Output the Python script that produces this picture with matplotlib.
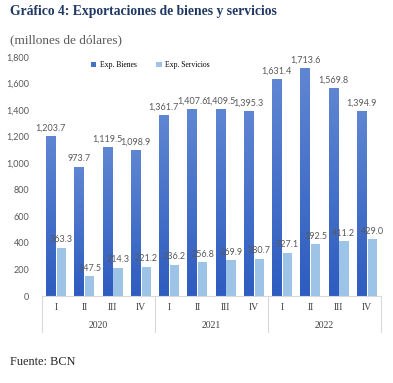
import matplotlib.pyplot as plt
import numpy as np
from matplotlib.colors import LinearSegmentedColormap

quarters = ['I', 'II', 'III', 'IV'] * 3
years = ['2020', '2021', '2022']
bienes = [1203.7, 973.7, 1119.5, 1098.9, 1361.7, 1407.6, 1409.5, 1395.3, 1631.4, 1713.6, 1569.8, 1394.9]
servicios = [363.3, 147.5, 214.3, 221.2, 236.2, 256.8, 269.9, 280.7, 327.1, 392.5, 411.2, 429.0]

W, H = 393, 383
fig = plt.figure(figsize=(W / 100, H / 100), dpi=100)
ax = fig.add_axes([42 / W, (H - 296) / H, 339 / W, 239 / H])

serif = 'Liberation Serif'
num = 'Lato'
gray = '#595959'

x = np.arange(len(bienes))
bw = 0.32
b1 = ax.bar(x - 0.19, bienes, bw, color='#4472C4', label='Exp. Bienes', zorder=2)
b2 = ax.bar(x + 0.19, servicios, bw, color='#9DC3E6', label='Exp. Servicios', zorder=2)

# gradient on the goods bars
grad = np.linspace(0, 1, 100).reshape(-1, 1)
cmap = LinearSegmentedColormap.from_list('g', ['#2E5CC0', '#5F86D2'])
for r in b1:
    x0, y0 = r.get_x(), r.get_y()
    im = ax.imshow(grad, extent=[x0, x0 + r.get_width(), y0, y0 + r.get_height()],
                   origin='lower', cmap=cmap, aspect='auto', zorder=2)
    im.set_clip_path(r)

for xi, v in zip(x, bienes):
    ax.text(xi - 0.19, v + 25, f'{v:,.1f}', ha='center', va='bottom',
            fontsize=6.5, color=gray, family=num)
for xi, v in zip(x, servicios):
    ax.text(xi + 0.19, v + 25, f'{v:,.1f}', ha='center', va='bottom',
            fontsize=6.5, color=gray, family=num)

ax.set_xlim(-0.5, 11.5)
ax.set_ylim(0, 1800)
ax.set_yticks(range(0, 1801, 200))
ax.set_yticklabels([f'{t:,}' for t in range(0, 1801, 200)], family=num, fontsize=6.5, color=gray)
ax.tick_params(axis='y', length=0, pad=9)
ax.set_xticks([])
for s in ['top', 'right', 'left']:
    ax.spines[s].set_visible(False)
ax.spines['bottom'].set_color('#D9D9D9')

trans = ax.get_xaxis_transform()
for xi, q in zip(x, quarters):
    ax.text(xi, -12 / 239, q, ha='center', va='center', fontsize=7,
            family=serif, color='#404040', transform=trans)
for i, yr in enumerate(years):
    ax.text(4 * i + 1.5, -30 / 239, yr, ha='center', va='center', fontsize=7,
            family=serif, color='#404040', transform=trans)
for b in [-0.5, 3.5, 7.5, 11.5]:
    ax.plot([b, b], [0, -36 / 239], color='#D9D9D9', lw=0.8,
            transform=trans, clip_on=False)

ax.legend(loc='center', bbox_to_anchor=(0.32, 0.966), ncol=2, frameon=False,
          prop={'family': serif, 'size': 5.5}, handlelength=0.7, handleheight=0.7,
          columnspacing=2.5, handletextpad=0.5)

fig.text(10 / W, 1 - 12 / H, 'Gráfico 4: Exportaciones de bienes y servicios',
         fontsize=9.8, fontweight='bold', family=serif, color='#1F3864', va='center')
fig.text(10 / W, 1 - 40 / H, '(millones de dólares)', fontsize=9.5,
         family=serif, color=gray, va='center')
fig.text(10 / W, 1 - 362 / H, 'Fuente: BCN', fontsize=8.8, family=serif,
         color='#262626', va='center')

fig.savefig('out.png', dpi=100)
